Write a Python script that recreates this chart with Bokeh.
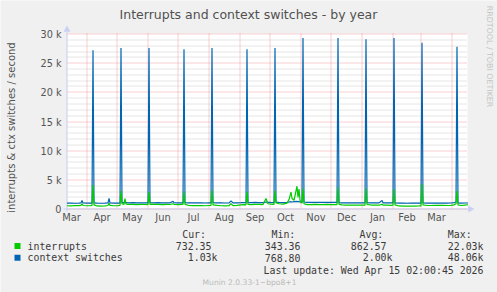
import math
from bokeh.plotting import figure
from bokeh.models import Range1d, ColumnDataSource
from bokeh.core.properties import value
from bokeh.embed import file_html
from bokeh.resources import INLINE

# ---------------- data (x = days since 2025-03-01) ----------------
days = [11, 15, 19, 23, 25, 26, 27, 31, 35, 36, 37, 38, 41, 45, 49, 52, 53, 54, 58, 62,
        64, 65, 66, 68, 69, 70, 73, 77, 81, 85, 89, 92, 93, 94, 98, 102, 106, 110, 114, 117,
        118, 122, 126, 127, 128, 129, 133, 137, 141, 145, 149, 153, 155, 156, 157, 161, 165, 169, 173, 175,
        177, 181, 185, 188, 190, 191, 192, 195, 199, 203, 207, 210, 212, 215, 218, 219, 220, 223, 227, 231,
        233, 235, 236, 238, 241, 242, 243, 244, 246, 247, 248, 251, 255, 259, 263, 267, 271, 275, 279, 281,
        282, 283, 286, 290, 294, 298, 302, 306, 309, 310, 311, 315, 319, 323, 326, 327, 331, 335, 337, 338,
        339, 343, 347, 351, 355, 359, 363, 365, 366, 367, 371, 375, 379, 383, 387, 391, 395, 398, 400, 401,
        402, 405, 409, 412]
ctx = [1000, 1010, 990, 1020, 1050, 1450, 1030, 1000, 1010, 1020, 27200, 1050, 1000, 990, 1010, 1050, 1800, 1050, 1000, 1010,
       1020, 27600, 1100, 1080, 1150, 1080, 1060, 1080, 1050, 1070, 1060, 1050, 27600, 1100, 1060, 1080, 1050, 1070, 1060, 1300,
       1080, 1050, 1060, 1060, 27400, 1100, 1050, 1040, 1050, 1040, 1030, 1050, 1050, 27600, 1100, 1050, 1040, 1030, 1050, 1400,
       1050, 1060, 1080, 1100, 1080, 27400, 1100, 1080, 1150, 1100, 1080, 1200, 1150, 1120, 1100, 27600, 1150, 1120, 1100, 1150,
       1200, 1250, 1200, 1250, 1300, 1250, 1300, 1200, 1150, 29300, 1200, 1150, 1150, 1160, 1150, 1150, 1160, 1150, 1140, 1150,
       29300, 1100, 1050, 1060, 1050, 1070, 1050, 1060, 1050, 29100, 1100, 1050, 1060, 1050, 1450, 1060, 1050, 1040, 1050, 29300,
       1050, 1000, 1000, 990, 1000, 1000, 1010, 1020, 28500, 1050, 1020, 1010, 1020, 1010, 1020, 1010, 1030, 1100, 1200, 27800,
       1050, 1020, 1030, 1030]
irq = [560, 540, 600, 580, 620, 900, 600, 560, 580, 600, 4100, 700, 520, 500, 540, 600, 1000, 620, 560, 580,
       600, 3100, 900, 800, 1800, 850, 780, 800, 760, 780, 770, 760, 2900, 800, 780, 800, 760, 780, 770, 900,
       800, 760, 780, 780, 3000, 800, 600, 580, 600, 580, 560, 600, 620, 3200, 700, 620, 560, 540, 560, 900,
       580, 620, 700, 750, 720, 3000, 800, 760, 800, 780, 760, 1800, 900, 850, 800, 3100, 1100, 900, 850, 1000,
       1600, 2900, 1800, 1500, 3900, 2000, 3400, 1500, 1000, 3500, 900, 750, 760, 780, 760, 760, 780, 760, 750, 760,
       3700, 800, 700, 680, 650, 680, 660, 680, 660, 3500, 800, 680, 660, 650, 800, 660, 650, 620, 640, 3400,
       700, 520, 500, 500, 510, 500, 520, 540, 4300, 700, 600, 600, 620, 610, 620, 600, 620, 700, 900, 3100,
       700, 600, 680, 730]

month_names = ["Mar", "Apr", "May", "Jun", "Jul", "Aug", "Sep", "Oct", "Nov", "Dec", "Jan", "Feb", "Mar"]
month_start_days = [0, 31, 61, 92, 122, 153, 184, 214, 245, 275, 306, 337, 365, 396]
y_ticks = [0, 5000, 10000, 15000, 20000, 25000, 30000]
y_tick_labels = ["0", "5 k", "10 k", "15 k", "20 k", "25 k", "30 k"]

series_names = ["interrupts", "context switches"]
series_colors = ["#00CC00", "#0066B3"]
cur_vals = ["732.35", "1.03k"]
min_vals = ["343.36", "768.80"]
avg_vals = ["862.57", "2.00k"]
max_vals = ["22.03k", "48.06k"]

title_text = "Interrupts and context switches - by year"
ylabel_text = "interrupts & ctx switches / second"
last_update = "Last update: Wed Apr 15 02:00:45 2026"
munin_text = "Munin 2.0.33-1~bpo8+1"
rrd_text = "RRDTOOL / TOBI OETIKER"

# ---------------- layout (pixel geometry of the munin image) ----------------
W, H = 497, 292
PL, PR, PT, PB = 67, 467, 33, 208        # plot area edges
YMAX = 30000
UNIT = YMAX / 175.0                      # value per pixel
DAY_PX0 = 55.5                           # pixel centre of day 0

def X(px):
    return px - DAY_PX0

def Y(py):
    return (208.5 - py) * UNIT

def px_of_val(v):
    return math.floor(208.5 - v / UNIT) + 0.5

p = figure(width=W, height=H, output_backend="svg", toolbar_location=None,
           x_range=Range1d(X(0), X(W)), y_range=Range1d(Y(H), Y(0)),
           x_axis_location=None, y_axis_location=None,
           min_border=0, min_border_left=0, min_border_right=0,
           min_border_top=0, min_border_bottom=0)
p.grid.visible = False
p.background_fill_color = "#F0F0F0"
p.border_fill_color = "#F0F0F0"
p.outline_line_color = None

axis_col = "#C9CFF2"
tick_col = "#555555"
grid_red = "#F0A0A0"
grid_gray = "#CCCCCC"

# plot canvas
p.quad(left=[X(PL)], right=[X(PR)], bottom=[Y(PB)], top=[Y(PT)], fill_color="white", line_color=None)

# minor horizontal grid
minor = [v for v in range(0, YMAX + 1, 1000) if v % 5000 != 0]
my = [Y(px_of_val(v)) for v in minor]
p.segment(x0=[X(PL)] * len(my), x1=[X(PR)] * len(my), y0=my, y1=my,
          line_color=grid_gray, line_width=1, line_dash="1 1")
# major horizontal grid
My = [Y(px_of_val(v)) for v in y_ticks]
p.segment(x0=[X(PL)] * len(My), x1=[X(PR)] * len(My), y0=My, y1=My,
          line_color=grid_red, line_width=1, line_dash="1 1")
# vertical month grid
vx = [d for d in month_start_days if X(PL) <= d <= X(PR)]
p.segment(x0=vx, x1=vx, y0=[Y(PB)] * len(vx), y1=[Y(PT)] * len(vx),
          line_color=grid_red, line_width=1, line_dash="1 1")

# axes with arrows
p.segment(x0=[X(63), X(66.5)], x1=[X(468), X(66.5)], y0=[Y(208.5), Y(211)], y1=[Y(208.5), Y(31)],
          line_color=axis_col, line_width=1)
p.patches(xs=[[X(63.5), X(69.5), X(66.5)], [X(468), X(468), X(473.5)]],
          ys=[[Y(31), Y(31), Y(25.5)], [Y(205.5), Y(211.5), Y(208.5)]],
          fill_color=axis_col, line_color=axis_col, line_width=0.5)

# data
src = ColumnDataSource(dict(day=days, ctx=ctx, irq=irq))
p.line(x="day", y="ctx", source=src, line_color=series_colors[1], line_width=1.2)
p.line(x="day", y="irq", source=src, line_color=series_colors[0], line_width=1.2)

def txt(texts, pxs, pys, size, color="#3a3a3a", font="DejaVu Sans", align="left", angle=0.0):
    p.text(x=[X(a) for a in pxs], y=[Y(b) for b in pys], text=texts,
           text_font=value(font), text_font_size=value(size), text_color=color,
           text_align=align, text_baseline="middle", angle=angle)

# tick labels
txt(y_tick_labels, [61] * len(y_ticks), [px_of_val(v) for v in y_ticks], "9.7px", color=tick_col, align="right")
mids = [(month_start_days[i] + month_start_days[i + 1]) / 2 for i in range(len(month_names))]
txt(month_names, [m + DAY_PX0 for m in mids], [216.5] * len(mids), "9.9px", color=tick_col, align="center")

# title & side texts
txt([title_text], [248], [14], "12.5px", color="#505050", align="center")
txt([ylabel_text], [10.5], [127], "10px", color="#505050", align="center", angle=math.pi / 2)
txt([rrd_text], [488.5], [56], "7.9px", color="#C4C4C4", align="center", angle=-math.pi / 2)

# legend
mono = "DejaVu Sans Mono"
fs = "9.9px"
txt(["Cur:", "Min:", "Avg:", "Max:"], [181.7, 271, 359, 447.3], [234] * 4, fs, font=mono)
row_y = [245.5, 257.3]
col_right = [217, 306, 392, 483]
sq_l, sq_r, sq_t, sq_b = [], [], [], []
for i in range(2):
    sq_l.append(X(14)); sq_r.append(X(20)); sq_t.append(Y(row_y[i] - 3)); sq_b.append(Y(row_y[i] + 3))
p.quad(left=sq_l, right=sq_r, top=sq_t, bottom=sq_b, fill_color=series_colors, line_color=None)
txt(series_names, [27, 27], row_y, fs, font=mono)
vals_t, vals_x, vals_y = [], [], []
for i in range(2):
    for vals, r in zip([cur_vals, min_vals, avg_vals, max_vals], col_right):
        v = vals[i]
        vals_t.append(v)
        vals_x.append(r if v.endswith("k") else r - 6)
        vals_y.append(row_y[i])
txt(vals_t, vals_x, vals_y, fs, font=mono, align="right")
txt([last_update], [483], [270], fs, font=mono, align="right")
txt([munin_text], [249], [281.7], "7.6px", color="#BBBBBB", align="center")

open("out.html", "w").write(file_html(p, INLINE))
